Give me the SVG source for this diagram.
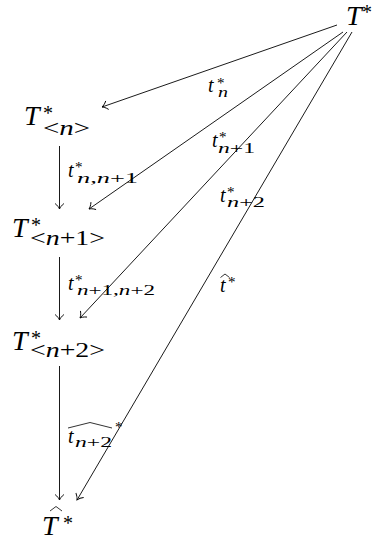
<svg xmlns="http://www.w3.org/2000/svg" width="377" height="545" viewBox="0 0 377 545">
<style>
text { font-family: "Liberation Serif", "Times New Roman", serif; fill: #000; }
.i { font-style: italic; }
.m { font-size: 28px; }
.s { font-size: 20px; }
.ss { font-size: 15px; }
.c { stroke: #000; stroke-width: 0.9; fill: none; marker-end: url(#ar); }
.h { stroke: #000; stroke-width: 0.8; fill: none; }
</style>
<defs>
<marker id="ar" markerUnits="userSpaceOnUse" markerWidth="14" markerHeight="14" viewBox="-7 -7 14 14" refX="0" refY="0" orient="auto" overflow="visible">
<path d="M -5.5 -4.5 C -3.5 -1.8 -1.2 -0.5 0 0 C -1.2 0.5 -3.5 1.8 -5.5 4.5" stroke="#000" stroke-width="0.9" fill="none"/>
</marker>
</defs>

<g id="connectors">
<line class="c" x1="337" y1="25" x2="102" y2="107"/>
<line class="c" x1="343" y1="32" x2="89" y2="209"/>
<line class="c" x1="347" y1="32" x2="80" y2="318"/>
<line class="c" x1="352" y1="32" x2="77" y2="500"/>
<line class="c" x1="59.5" y1="146" x2="59.5" y2="209"/>
<line class="c" x1="59.5" y1="257" x2="59.5" y2="320"/>
<line class="c" x1="59.5" y1="366" x2="59.5" y2="500"/>
</g>

<g id="labels">
<g id="l_tn">
<text class="s i" x="208" y="92">t</text>
<text class="ss" x="217" y="88">*</text>
<text class="ss i" x="218" y="97" textLength="10" lengthAdjust="spacingAndGlyphs">n</text>
</g>
<g id="l_tn1">
<text class="s i" x="212" y="147">t</text>
<text class="ss" x="219" y="142">*</text>
<text class="ss" x="218" y="153" textLength="37" lengthAdjust="spacingAndGlyphs"><tspan class="i">n</tspan>+1</text>
</g>
<g id="l_tnn1">
<text class="s i" x="68" y="177">t</text>
<text class="ss" x="75" y="172">*</text>
<text class="ss" x="77" y="183" textLength="61" lengthAdjust="spacingAndGlyphs"><tspan class="i">n</tspan>,<tspan class="i">n</tspan>+1</text>
</g>
<g id="l_tn2">
<text class="s i" x="220" y="202">t</text>
<text class="ss" x="227" y="197">*</text>
<text class="ss" x="227" y="207" textLength="38" lengthAdjust="spacingAndGlyphs"><tspan class="i">n</tspan>+2</text>
</g>
<g id="l_that">
<text class="s i" x="220" y="292">t</text>
<path class="h" d="M 220.5 277.5 L 225 274 L 229.5 277.5"/>
<text class="ss" x="228" y="287">*</text>
</g>
<g id="l_tn1n2">
<text class="s i" x="68" y="290">t</text>
<text class="ss" x="75" y="285">*</text>
<text class="ss" x="77" y="295" textLength="78" lengthAdjust="spacingAndGlyphs"><tspan class="i">n</tspan>+1,<tspan class="i">n</tspan>+2</text>
</g>
<g id="l_widehat">
<text class="s i" x="68" y="443">t</text>
<text class="ss" x="75" y="447" textLength="37" lengthAdjust="spacingAndGlyphs"><tspan class="i">n</tspan>+2</text>
<path class="h" d="M 68 428 L 90 422.5 L 112 428"/>
<text class="ss" x="115" y="432">*</text>
</g>
</g>

<g id="T">
<text class="m i" x="346" y="25">T</text>
<text class="s" x="362" y="19">*</text>
</g>
<g id="Tn">
<text class="m i" x="24" y="125">T</text>
<text class="s" x="43" y="120">*</text>
<text class="s" x="43" y="135" textLength="47" lengthAdjust="spacingAndGlyphs">&lt;<tspan class="i">n</tspan>&gt;</text>
</g>
<g id="Tn1">
<text class="m i" x="12" y="237">T</text>
<text class="s" x="31" y="232">*</text>
<text class="s" x="30" y="245" textLength="75" lengthAdjust="spacingAndGlyphs">&lt;<tspan class="i">n</tspan>+1&gt;</text>
</g>
<g id="Tn2">
<text class="m i" x="12" y="350">T</text>
<text class="s" x="31" y="345">*</text>
<text class="s" x="30" y="357" textLength="75" lengthAdjust="spacingAndGlyphs">&lt;<tspan class="i">n</tspan>+2&gt;</text>
</g>
<g id="That">
<text class="m i" x="42" y="535">T</text>
<path class="h" d="M 50 511 L 56 506.5 L 62 511"/>
<text class="s" x="63" y="530">*</text>
</g>
</svg>
